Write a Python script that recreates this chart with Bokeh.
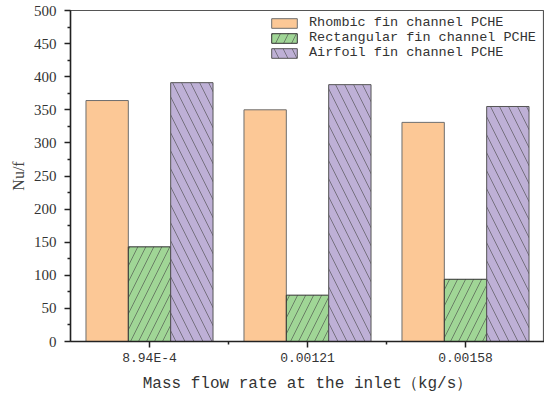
from bokeh.plotting import figure
from bokeh.models import ColumnDataSource, FixedTicker, Range1d, Legend, LegendItem
from bokeh.transform import dodge
from bokeh.embed import file_html
from bokeh.resources import INLINE

categories = ["8.94E-4", "0.00121", "0.00158"]
positions = [1, 2, 3]
rhombic = [364, 350, 331]
rectangular = [143, 70, 94]
airfoil = [391, 388, 355]
series_names = ["Rhombic fin channel PCHE", "Rectangular fin channel PCHE", "Airfoil fin channel PCHE"]

src = ColumnDataSource(dict(x=positions, rhombic=rhombic, rectangular=rectangular, airfoil=airfoil))

p = figure(width=544, height=395, output_backend="svg", toolbar_location=None,
           x_range=Range1d(0.5, 3.5), y_range=Range1d(0, 500),
           min_border_left=70, min_border_top=10, min_border_bottom=53, min_border_right=0)
p.background_fill_color = "white"
p.border_fill_color = "white"
p.outline_line_color = "#555555"
p.outline_line_width = 1.2
p.xgrid.visible = False
p.ygrid.visible = False

w = 0.268
r1 = p.vbar(x=dodge("x", -w, range=p.x_range), top="rhombic", width=w, source=src,
            fill_color="#FCC896", line_color="#6e6e6e", line_width=1)
r2 = p.vbar(x=dodge("x", 0, range=p.x_range), top="rectangular", width=w, source=src,
            fill_color="#A0D696", line_color="#333333", line_width=1,
            hatch_pattern="right_diagonal_line", hatch_color="#444444", hatch_scale=16, hatch_weight=0.6)
r3 = p.vbar(x=dodge("x", w, range=p.x_range), top="airfoil", width=w, source=src,
            fill_color="#BEB0D6", line_color="#555555", line_width=1,
            hatch_pattern="left_diagonal_line", hatch_color="#444444", hatch_scale=18, hatch_weight=0.6)

# x axis
xa = p.xaxis[0]
xa.ticker = FixedTicker(ticks=positions, minor_ticks=[1.5, 2.5])
xa.major_label_overrides = {pos: lab for pos, lab in zip(positions, categories)}
xa.axis_label = "Mass flow rate at the inlet（kg/s）"
xa.axis_label_text_font = "Liberation Mono"
xa.axis_label_text_font_size = "16px"
xa.axis_label_text_font_style = "normal"
xa.axis_label_text_color = "#333333"
xa.axis_label_standoff = 6
xa.major_label_text_font = "Liberation Mono"
xa.major_label_text_font_size = "13px"
xa.major_label_text_color = "#333333"
xa.major_label_standoff = 3
xa.axis_line_color = "#222222"
xa.axis_line_width = 1.5
xa.major_tick_line_color = "#222222"
xa.major_tick_line_width = 1.5
xa.major_tick_out = 6
xa.major_tick_in = 0
xa.minor_tick_line_color = "#222222"
xa.minor_tick_line_width = 1.5
xa.minor_tick_out = 3
xa.minor_tick_in = 0

# y axis
ya = p.yaxis[0]
ya.ticker = FixedTicker(ticks=list(range(0, 501, 50)), minor_ticks=list(range(25, 500, 50)))
ya.axis_label = "Nu/f"
ya.axis_label_text_font = "Liberation Serif"
ya.axis_label_text_font_size = "16px"
ya.axis_label_text_font_style = "normal"
ya.axis_label_text_color = "#444444"
ya.axis_label_standoff = 4
ya.major_label_text_font = "Liberation Serif"
ya.major_label_text_font_size = "15px"
ya.major_label_text_color = "#333333"
ya.major_label_standoff = 8
ya.axis_line_color = "#222222"
ya.axis_line_width = 1.5
ya.major_tick_line_color = "#222222"
ya.major_tick_line_width = 1.5
ya.major_tick_out = 6
ya.major_tick_in = 0
ya.minor_tick_line_color = "#222222"
ya.minor_tick_line_width = 1.5
ya.minor_tick_out = 3
ya.minor_tick_in = 0

legend = Legend(items=[LegendItem(label=series_names[0], renderers=[r1]),
                       LegendItem(label=series_names[1], renderers=[r2]),
                       LegendItem(label=series_names[2], renderers=[r3])],
                location=(198, 281))
legend.border_line_color = None
legend.background_fill_alpha = 0
legend.label_text_font = "Liberation Mono"
legend.label_text_font_size = "13.5px"
legend.label_text_color = "#333333"
legend.glyph_width = 32
legend.glyph_height = 12
legend.label_height = 15
legend.spacing = 0
legend.padding = 1
legend.margin = 0
legend.label_standoff = 9
p.add_layout(legend)

open("out.html", "w").write(file_html(p, INLINE))
